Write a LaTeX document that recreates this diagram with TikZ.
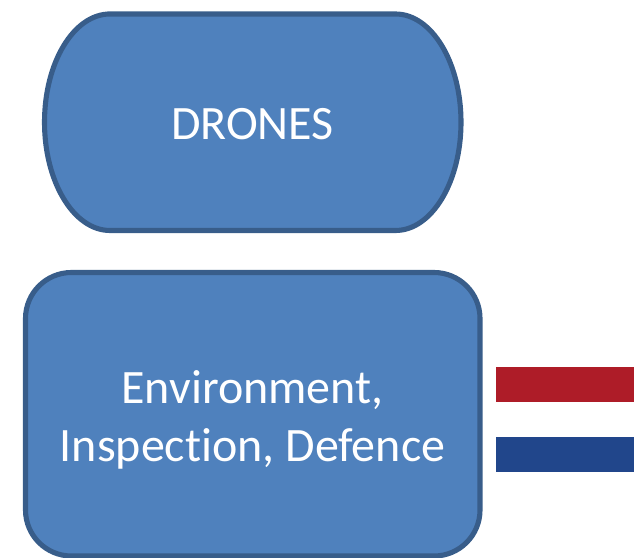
\documentclass[tikz,border=0pt]{standalone}
\usepackage{fontspec}
\setmainfont[Ligatures=NoCommon]{Carlito}
\usetikzlibrary{positioning}
\definecolor{boxfill}{HTML}{4F81BD}
\definecolor{boxline}{HTML}{385D8A}
\definecolor{flagred}{HTML}{AE1C28}
\definecolor{flagblue}{HTML}{21468B}
\tikzset{
  box/.style={fill=boxfill,draw=boxline,line width=2.9pt},
  boxlabel/.style={text=white,align=center,font=\fontsize{27.3}{33}\selectfont},
}
\begin{document}
\begin{tikzpicture}[x=0.02cm,y=0.02cm]
  \useasboundingbox (0,0) rectangle (634,557);

  %% upper shape
  \draw[box] (110,543) -- (395.5,543)
    arc[start angle=90,end angle=-90,x radius=65.5,y radius=108.25] -- (110,326.5)
    arc[start angle=270,end angle=90,x radius=65.5,y radius=108.25] -- cycle;
  \node[boxlabel] (drones) at (252.5,433) {DRONES};

  %% lower shape
  \draw[box,rounded corners=0.92cm] (25.5,284.5) rectangle (480,1);
  \node[boxlabel] (sectors) at (252.5,137) {Environment,\\Inspection, Defence};

  %% flag
  \fill[flagred] (496,190) rectangle (634,155);
  \fill[flagblue] (496,120) rectangle (634,85);
\end{tikzpicture}
\end{document}
